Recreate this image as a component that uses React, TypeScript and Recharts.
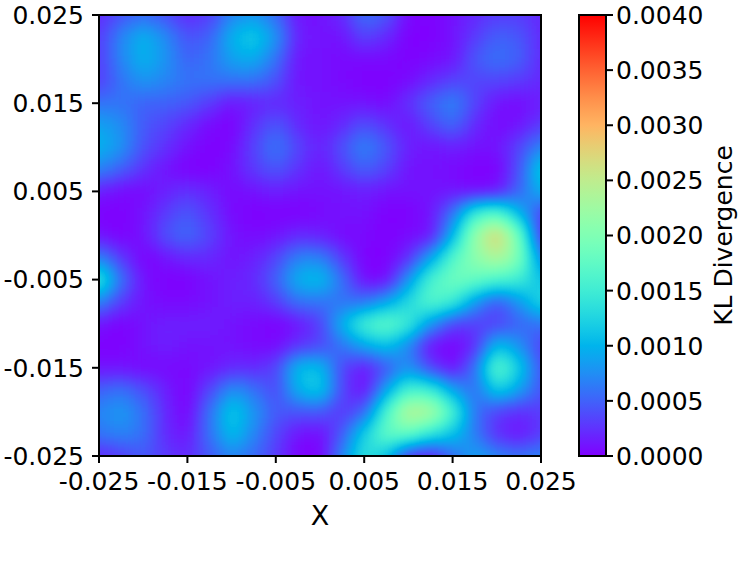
import React from 'react';
import { ScatterChart, Scatter, XAxis, YAxis, BarChart, Bar, ReferenceArea } from 'recharts';

// KL divergence, in units of 1e-4. Rows run top (y=0.025) to bottom (y=-0.025).
const row00 = [2,4,5.5,4,2,3,7,8,5.5,1,1,2,6,4.5,0.5,0,1,2,3,3,2];
const row01 = [3,7,10,7.5,4,5,10,12,8,1.5,1,1,3.5,2,0,0,1,3,5,4.5,2];
const row02 = [3,7,10,8,5,6,9,9.5,6,1,1,0.5,0.5,0.5,0,0.5,1,4.5,6,5,2];
const row03 = [3,6,8,7,6,6,6,6,4,1,1,0.5,0,0,0.5,2,3.5,3.5,3.5,3,2];
const row04 = [6,6,5,5,4.5,3,1,1.5,2,1.5,1,1,1,0.5,2.5,5,7,3.5,1,0.5,1.5];
const row05 = [9,7.5,4.5,3.5,2,0.5,0,2.5,4.5,2,1,2,4,2.5,1,3.5,5.5,2,0.5,1,3];
const row06 = [10,8,4,2.5,1,0,0.5,3.5,6.5,3.5,1.5,4,7,4.5,1.5,1,1.5,1,1,3.5,7];
const row07 = [7,5,2.5,1,0,0,1,3,4.5,2.5,1,3,5,3.5,1,1,0.5,0,0,4,12];
const row08 = [1.5,0.5,0.5,1.5,2.5,1.5,0.5,1,1.5,1,1,1,1.5,1,1,1,1,0.5,1,5,10];
const row09 = [0,0,1,3,4.5,2.5,0.5,0,0,0,0.5,1,1,0,0,1,6,15,17,10,3];
const row10 = [1,0,1,4,5.5,3.5,1,0.5,1,2,1.5,0.5,0.5,0,0.5,1,10,22,28,19,2];
const row11 = [7,3,0,1,2,2,1,1.5,3.5,7,7,3,0,0,2,9,17,21,24,20,7];
const row12 = [15,6,1,0,0,1,1.5,2,5,10,11,6,0.5,0.5,8,16,19,18,16,15,11];
const row13 = [7,3,1,0.5,0.5,1,1.5,1.5,3,6,6,6,6,9,13,17,15,8,4,8,13];
const row14 = [1,0,1,1.5,1.5,1.5,1,0.5,0,1,3,10,16,18,15,8,3,3,3,5,6];
const row15 = [0,0,1,1.5,1,1,1,0.5,0.5,2.5,3.5,6,9,11,7,0.5,0,2,11,8,3];
const row16 = [1,1,0.5,0.5,0.5,1,2,2,3.5,11,11,3.5,1,4,8,3.5,0.5,6,18,12,4];
const row17 = [5,6,4,1.5,0,3.5,8,6,3.5,10,12,3.5,0.5,9,16,15,9,5.5,12,9,4];
const row18 = [7,8.5,6,2,0,6,12,8,4.5,4,4.5,2.5,5,16,25,24,16,6,3,2,3];
const row19 = [6,7,6,2,1,6,11,7,3.5,1,0.5,4.5,12,18,18,14,11,6.5,2,1,3];
const row20 = [2,3,4.5,3,2,4.5,7,5.5,3,0,0,7,14,11,2,1,5.5,9,7,6,7];

const rows = [row00,row01,row02,row03,row04,row05,row06,row07,row08,row09,row10,row11,row12,row13,row14,row15,row16,row17,row18,row19,row20];

const gridStep = 0.0025;
const axisMin = -0.025;
const axisMax = 0.025;
const axisTicks = [-0.025, -0.015, -0.005, 0.005, 0.015, 0.025];
const colorMax = 0.004;
const colorTicks = [0, 0.0005, 0.001, 0.0015, 0.002, 0.0025, 0.003, 0.0035, 0.004];
const colorbarData = [{ name: 'KL', value: colorMax }];

const cells = rows.flatMap((r, j) =>
  r.map((v, i) => ({ x: axisMin + i * gridStep, y: axisMax - j * gridStep, v: v * 1e-4, i, j })),
);

// matplotlib "rainbow" colormap
const N = 64;
const ramp = Array.from({ length: N + 1 }, (_, k) => k / N);
const rr = ramp.map((t) => Math.min(1, Math.abs(2 * t - 0.5)));
const gg = ramp.map((t) => Math.sin(Math.PI * t));
const bb = ramp.map((t) => Math.cos((Math.PI * t) / 2));
const hex = (k: number) =>
  `rgb(${Math.round(rr[k] * 255)},${Math.round(gg[k] * 255)},${Math.round(bb[k] * 255)})`;

const FONT = '"DejaVu Sans"';
const FS = 25;
const tickStyle = { fontSize: FS, fill: '#000', fontFamily: FONT };
const lineStyle = { stroke: '#000', strokeWidth: 2 };

const CELL = 22.05;
const Cell = (p: any) => {
  const { cx, cy, payload } = p;
  const g = Math.round((payload.v / colorMax) * 255);
  const pad = 40;
  const x0 = cx - CELL / 2 - (payload.i === 0 ? pad : 0);
  const x1 = cx + CELL / 2 + 0.5 + (payload.i === 20 ? pad : 0);
  const y0 = cy - CELL / 2 - (payload.j === 0 ? pad : 0);
  const y1 = cy + CELL / 2 + 0.5 + (payload.j === 20 ? pad : 0);
  return <rect x={x0} y={y0} width={x1 - x0} height={y1 - y0} fill={`rgb(${g},${g},${g})`} shapeRendering="crispEdges" />;
};

export default function App() {
  return (
    <div style={{ position: 'absolute', left: 0, top: 0, width: 748, height: 562, background: '#fff' }}>
      <style>{`.heat .recharts-scatter{filter:url(#heatMap);clip-path:url(#plotClip);}`}</style>
      <svg width={0} height={0} style={{ position: 'absolute' }}>
        <defs>
          <filter id="heatMap" filterUnits="userSpaceOnUse" x={0} y={0} width={748} height={562} colorInterpolationFilters="sRGB">
            <feGaussianBlur stdDeviation={9.5} />
            <feComponentTransfer>
              <feFuncR type="table" tableValues={rr.join(' ')} />
              <feFuncG type="table" tableValues={gg.join(' ')} />
              <feFuncB type="table" tableValues={bb.join(' ')} />
            </feComponentTransfer>
          </filter>
          <clipPath id="plotClip" clipPathUnits="userSpaceOnUse">
            <rect x={100} y={16} width={440} height={439} />
          </clipPath>
          <linearGradient id="cbar" x1="0" y1="1" x2="0" y2="0">
            {ramp.map((t, k) => (
              <stop key={k} offset={t} stopColor={hex(k)} />
            ))}
          </linearGradient>
        </defs>
      </svg>
      <div className="heat" style={{ position: 'absolute', left: 0, top: 0 }}>
        <ScatterChart width={748} height={562} margin={{ top: 15, right: 207, bottom: 0, left: 0 }}>
          <XAxis
            type="number"
            dataKey="x"
            domain={[axisMin, axisMax]}
            ticks={axisTicks}
            interval={0}
            height={106}
            tickSize={7}
            tickMargin={9}
            tick={tickStyle}
            axisLine={lineStyle}
            tickLine={lineStyle}
            tickFormatter={(v: number) => v.toFixed(3)}
            label={{ value: 'X', position: 'insideBottom', offset: 37, fontSize: 27, fill: '#000', fontFamily: FONT }}
          />
          <YAxis
            type="number"
            dataKey="y"
            domain={[axisMin, axisMax]}
            ticks={axisTicks}
            interval={0}
            width={99}
            tickSize={7}
            tickMargin={8}
            tick={tickStyle}
            axisLine={lineStyle}
            tickLine={lineStyle}
            tickFormatter={(v: number) => v.toFixed(3)}
          />
          <Scatter data={cells} shape={Cell} isAnimationActive={false} />
          <ReferenceArea x1={axisMin} x2={axisMax} y1={axisMin} y2={axisMax} fill="none" stroke="#000" strokeWidth={2} ifOverflow="visible" />
        </ScatterChart>
      </div>
      <div style={{ position: 'absolute', left: 0, top: 0 }}>
        <BarChart width={748} height={562} data={colorbarData} barCategoryGap={0} margin={{ top: 15, right: 0, bottom: 106, left: 579 }}>
          <XAxis dataKey="name" hide />
          <YAxis
            orientation="right"
            type="number"
            domain={[0, colorMax]}
            ticks={colorTicks}
            interval={0}
            width={142}
            tickSize={7}
            tickMargin={3}
            tick={tickStyle}
            axisLine={lineStyle}
            tickLine={lineStyle}
            tickFormatter={(v: number) => v.toFixed(4)}
            label={{ value: 'KL Divergence', angle: -90, position: 'insideRight', offset: 25, fontSize: FS, fill: '#000', fontFamily: FONT, style: { textAnchor: 'middle' } }}
          />
          <Bar dataKey="value" fill="url(#cbar)" stroke="#000" strokeWidth={2} isAnimationActive={false} />
        </BarChart>
      </div>
    </div>
  );
}
